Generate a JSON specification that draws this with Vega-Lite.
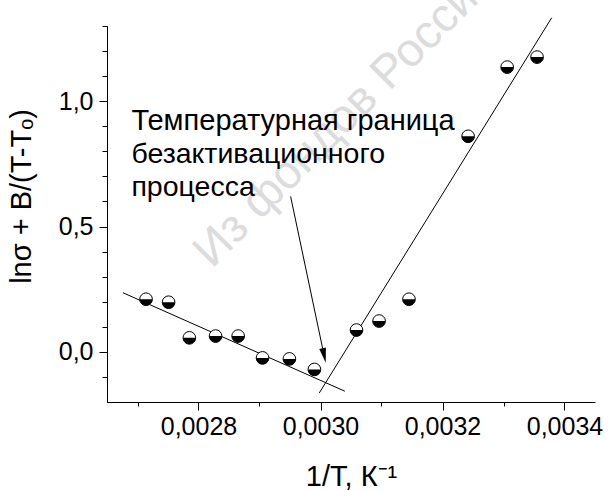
{
  "$schema": "https://vega.github.io/schema/vega-lite/v6.json",
  "width": 488,
  "height": 376,
  "autosize": {"type": "none"},
  "padding": {"left": 107, "top": 26, "right": 13, "bottom": 89},
  "background": "white",
  "config": {
    "view": {"stroke": null},
    "font": "Liberation Sans",
    "axis": {
      "domainColor": "black",
      "tickColor": "black",
      "labelColor": "black",
      "titleColor": "black",
      "labelFont": "Liberation Sans",
      "titleFont": "Liberation Sans",
      "labelOverlap": false,
      "labelFlush": false,
      "grid": false
    }
  },
  "resolve": {"axis": {"y": "independent"}},
  "datasets": {
    "pts": [
      {"x": 0.002714, "y": 0.21},
      {"x": 0.002751, "y": 0.198},
      {"x": 0.002785, "y": 0.056},
      {"x": 0.002828, "y": 0.063},
      {"x": 0.002865, "y": 0.063},
      {"x": 0.002905, "y": -0.024},
      {"x": 0.002949, "y": -0.028},
      {"x": 0.00299, "y": -0.07},
      {"x": 0.003059, "y": 0.087},
      {"x": 0.003096, "y": 0.123},
      {"x": 0.003145, "y": 0.21},
      {"x": 0.003242, "y": 0.86},
      {"x": 0.003306, "y": 1.136},
      {"x": 0.003355, "y": 1.176}
    ],
    "fits": [
      {"g": "low", "x": 0.002676, "y": 0.236},
      {"g": "low", "x": 0.00304, "y": -0.157},
      {"g": "high", "x": 0.002998, "y": -0.164},
      {"g": "high", "x": 0.003379, "y": 1.333}
    ]
  },
  "layer": [
    {
      "data": {"values": [{"x": 0.002822, "y": 0.33, "t": "Из фондов Российской"}]},
      "mark": {"type": "text", "align": "left", "baseline": "alphabetic", "angle": -45, "fontSize": 47, "color": "#dcdcdc", "font": "Liberation Sans"},
      "encoding": {
        "x": {"field": "x", "type": "quantitative"},
        "y": {"field": "y", "type": "quantitative", "axis": null},
        "text": {"field": "t"}
      }
    },
    {
      "data": {"name": "fits"},
      "mark": {"type": "line", "color": "black", "strokeWidth": 1},
      "encoding": {
        "x": {
          "field": "x", "type": "quantitative",
          "scale": {"domain": [0.00265, 0.00345], "nice": false, "zero": false},
          "axis": {
            "title": "1/T, К⁻¹",
            "titleFontSize": 29,
            "titleFontWeight": "normal",
            "titleBaseline": "alphabetic",
            "titleY": 83,
            "values": [0.0027, 0.0028, 0.0029, 0.003, 0.0031, 0.0032, 0.0033, 0.0034],
            "labelExpr": "round(datum.value*10000) % 2 === 0 ? replace(format(datum.value, '.4f'), '.', ',') : ''",
            "labelFontSize": 25,
            "labelPadding": 4,
            "tickSize": {"condition": {"test": "round(datum.value*10000) % 2 === 0", "value": 8}, "value": 4}
          }
        },
        "y": {
          "field": "y", "type": "quantitative",
          "scale": {"domain": [-0.2, 1.3], "nice": false, "zero": false},
          "axis": {
            "orient": "left",
            "title": "lnσ + B/(T-Tₒ)",
            "titleFontSize": 29,
            "titleFontWeight": "normal",
            "titleX": -71,
            "titleY": 170,
            "values": [0, 0.5, 1],
            "labelExpr": "replace(format(datum.value, '.1f'), '.', ',')",
            "labelFontSize": 25,
            "labelPadding": 6,
            "tickSize": 8
          }
        },
        "detail": {"field": "g"}
      }
    },
    {
      "data": {"values": [{"x": 0.002951, "y": 0.62, "x2": 0.003006, "y2": -0.015}]},
      "mark": {"type": "rule", "color": "black", "strokeWidth": 1},
      "encoding": {
        "x": {"field": "x", "type": "quantitative"},
        "y": {
          "field": "y", "type": "quantitative",
          "axis": {
            "orient": "left",
            "title": null,
            "labels": false,
            "values": [-0.1, 0.1, 0.2, 0.3, 0.4, 0.6, 0.7, 0.8, 0.9, 1.1, 1.2, 1.3],
            "tickSize": 5
          }
        },
        "x2": {"field": "x2"},
        "y2": {"field": "y2"}
      }
    },
    {
      "data": {"values": [{"x": 0.003006, "y": -0.0146}]},
      "mark": {"type": "point", "shape": "M-0.45,-1L0.45,-1L0,1Z", "size": 225, "angle": 348, "filled": true, "color": "black", "opacity": 1},
      "encoding": {
        "x": {"field": "x", "type": "quantitative"},
        "y": {"field": "y", "type": "quantitative", "axis": null}
      }
    },
    {
      "data": {"name": "pts"},
      "mark": {"type": "point", "shape": "circle", "size": 160, "fill": "white", "stroke": "black", "strokeWidth": 1, "opacity": 1},
      "encoding": {
        "x": {"field": "x", "type": "quantitative"},
        "y": {"field": "y", "type": "quantitative", "axis": null}
      }
    },
    {
      "data": {"name": "pts"},
      "mark": {"type": "point", "shape": "M-1,0A1,1,0,0,0,1,0Z", "size": 160, "filled": true, "color": "black", "opacity": 1},
      "encoding": {
        "x": {"field": "x", "type": "quantitative"},
        "y": {"field": "y", "type": "quantitative", "axis": null}
      }
    },
    {
      "data": {"values": [{"x": 0.00269, "y": 0.887, "t": "Температурная граница"}]},
      "mark": {"type": "text", "align": "left", "baseline": "alphabetic", "fontSize": 29, "color": "black", "font": "Liberation Sans"},
      "encoding": {
        "x": {"field": "x", "type": "quantitative"},
        "y": {"field": "y", "type": "quantitative", "axis": null},
        "text": {"field": "t"}
      }
    },
    {
      "data": {"values": [{"x": 0.00269, "y": 0.752, "t": ["безактивационного", "\u00a0процесса"]}]},
      "mark": {"type": "text", "align": "left", "baseline": "alphabetic", "fontSize": 28.5, "lineHeight": 33, "color": "black", "font": "Liberation Sans"},
      "encoding": {
        "x": {"field": "x", "type": "quantitative"},
        "y": {"field": "y", "type": "quantitative", "axis": null},
        "text": {"field": "t"}
      }
    }
  ]
}
